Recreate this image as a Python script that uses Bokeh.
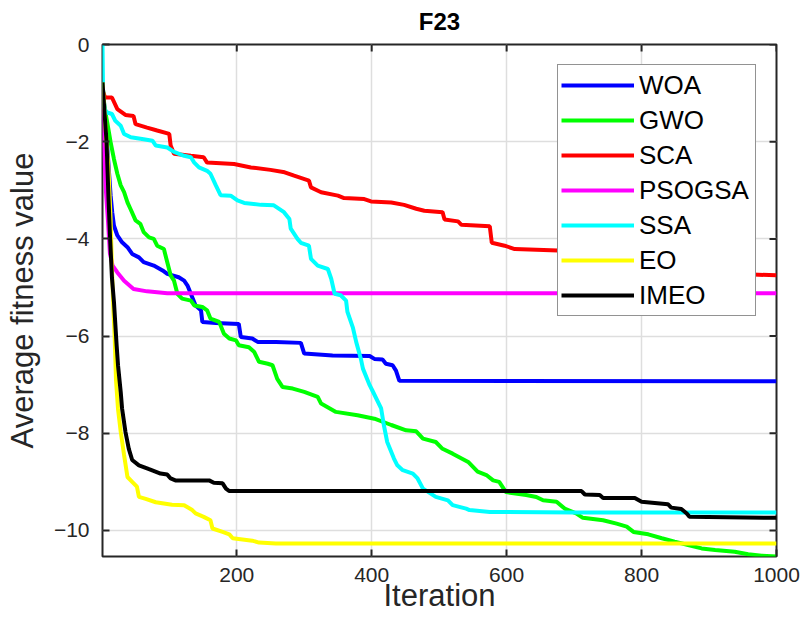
from bokeh.plotting import figure
from bokeh.models import FixedTicker, Range1d, Legend, LegendItem
from bokeh.embed import file_html
from bokeh.resources import INLINE

# ---------------- data ----------------
x_ticks = [200, 400, 600, 800, 1000]
y_ticks = [-10, -8, -6, -4, -2, 0]

woa_x = [1, 5, 10, 13, 15.4, 18, 23, 30, 38, 45, 55, 62, 77, 90, 97, 114, 122, 127, 134, 139,
         147, 149, 169, 203, 206, 223, 231, 258, 295, 300, 342, 397, 404, 416, 421, 431, 436, 441, 1000]
woa_y = [-0.8, -1.5, -2.5, -3.1, -3.45, -3.73, -3.93, -4.07, -4.17, -4.31, -4.38, -4.48, -4.55, -4.65,
         -4.72, -4.79, -4.86, -4.96, -5.20, -5.37, -5.47, -5.71, -5.73, -5.75, -6.02, -6.05, -6.12,
         -6.12, -6.14, -6.36, -6.40, -6.41, -6.47, -6.48, -6.57, -6.60, -6.71, -6.92, -6.93]

gwo_x = [1, 4, 8, 13, 18, 23, 28, 33, 38, 43, 50, 57, 62, 70, 77, 82, 92, 97, 102, 107,
         112, 119, 132, 137, 149, 156, 161, 174, 181, 189, 199, 203, 218, 226, 233, 246, 253, 260, 268, 283,
         300, 320, 325, 347, 379, 404, 429, 451, 466, 476, 495, 505, 520, 543, 557, 570, 580, 589, 599, 629,
         644, 654, 674, 686, 703, 713, 743, 763, 778, 788, 810, 830, 849, 869, 889, 909, 938, 958, 978, 1000]
gwo_y = [-0.8, -1.3, -1.60, -2.01, -2.36, -2.66, -2.90, -3.04, -3.25, -3.40,
         -3.62, -3.69, -3.86, -3.97, -4.00, -4.14, -4.21, -4.48, -4.75, -4.86,
         -5.13, -5.23, -5.27, -5.37, -5.40, -5.47, -5.64, -5.71, -5.95, -6.05,
         -6.09, -6.19, -6.23, -6.33, -6.53, -6.57, -6.60, -6.88, -7.05, -7.08,
         -7.15, -7.25, -7.39, -7.56, -7.63, -7.70, -7.83, -7.94, -7.96, -8.11,
         -8.18, -8.32, -8.42, -8.59, -8.79, -8.86, -8.97, -9.00, -9.21, -9.27,
         -9.31, -9.38, -9.41, -9.55, -9.65, -9.74, -9.79, -9.86, -9.92, -10.03,
         -10.08, -10.16, -10.23, -10.30, -10.37, -10.40, -10.44, -10.49, -10.52, -10.536]

sca_x = [1, 5, 15, 23, 35, 47, 50, 67, 82, 100, 102, 107, 132, 151, 156, 196, 221, 250, 271, 285,
         307, 310, 325, 350, 359, 389, 399, 429, 448, 466, 478, 505, 508, 528, 533, 575, 578, 597, 612, 676,
         750, 820, 880, 940, 1000]
sca_y = [-0.95, -1.09, -1.09, -1.33, -1.45, -1.47, -1.64, -1.71, -1.77, -1.84,
         -2.08, -2.25, -2.29, -2.32, -2.43, -2.46, -2.53, -2.58, -2.63, -2.70,
         -2.80, -2.94, -3.04, -3.11, -3.16, -3.18, -3.23, -3.25, -3.30, -3.38,
         -3.42, -3.45, -3.60, -3.64, -3.71, -3.74, -4.08, -4.14, -4.21, -4.24,
         -4.35, -4.50, -4.62, -4.72, -4.75]

psogsa_x = [1, 3, 6, 9, 12, 16, 23, 33, 47, 67, 97, 1000]
psogsa_y = [-0.9, -2.0, -3.0, -3.6, -4.3, -4.55, -4.69, -4.86, -5.03, -5.08, -5.12, -5.12]

ssa_x = [1, 2, 5, 8, 15, 20, 28, 33, 43, 62, 75, 80, 97, 107, 122, 132, 137, 144, 156, 161,
         169, 176, 191, 201, 211, 236, 255, 270, 278, 280, 290, 295, 307, 310, 320, 335, 340, 345, 354, 362,
         364, 372, 377, 384, 387, 397, 401, 414, 418, 423, 433, 438, 446, 461, 468, 476, 495, 513, 520, 540,
         545, 575, 700, 1000]
ssa_y = [0, -1.2, -1.35, -1.40, -1.43, -1.57, -1.67, -1.84, -1.91, -1.95,
         -1.98, -2.08, -2.12, -2.21, -2.29, -2.32, -2.43, -2.53, -2.60, -2.66,
         -2.90, -3.10, -3.11, -3.21, -3.26, -3.30, -3.31, -3.45, -3.59, -3.79,
         -4.00, -4.08, -4.14, -4.41, -4.55, -4.62, -4.82, -5.13, -5.16, -5.27,
         -5.50, -5.82, -6.12, -6.47, -6.67, -7.01, -7.12, -7.49, -7.83, -8.18,
         -8.52, -8.66, -8.76, -8.83, -8.93, -9.14, -9.31, -9.38, -9.48, -9.55,
         -9.58, -9.62, -9.63, -9.63]

eo_x = [1, 6, 10, 13, 15, 17, 19, 21, 24, 28, 33, 38, 45, 52, 55, 65, 80, 104, 122, 134,
        139, 151, 161, 164, 179, 189, 194, 223, 233, 258, 1000]
eo_y = [-0.78, -1.8, -2.6, -3.6, -4.6, -5.4, -6.0, -6.9, -7.5, -7.97,
        -8.45, -8.90, -9.00, -9.10, -9.31, -9.35, -9.42, -9.47, -9.48, -9.58,
        -9.65, -9.72, -9.79, -9.96, -10.03, -10.08, -10.16, -10.21, -10.25, -10.27, -10.27]

imeo_x = [1, 4, 7, 10, 12, 15, 18, 22, 24, 28, 30, 35, 40, 45, 55, 70, 87, 97, 102, 109,
          159, 166, 179, 184, 189, 711, 716, 738, 743, 790, 800, 839, 844, 859, 867, 871, 1000]
imeo_y = [-0.78, -1.4, -2.0, -3.2, -3.9, -4.8, -5.3, -6.2, -6.6, -7.15,
          -7.49, -7.97, -8.32, -8.55, -8.66, -8.74, -8.83, -8.85, -8.93, -8.97,
          -8.97, -9.02, -9.03, -9.14, -9.19, -9.19, -9.26, -9.27, -9.33, -9.33,
          -9.41, -9.46, -9.53, -9.56, -9.65, -9.72, -9.74]

series = [
    ("WOA", woa_x, woa_y, "#0000ff"),
    ("GWO", gwo_x, gwo_y, "#00ff00"),
    ("SCA", sca_x, sca_y, "#ff0000"),
    ("PSOGSA", psogsa_x, psogsa_y, "#ff00ff"),
    ("SSA", ssa_x, ssa_y, "#00ffff"),
    ("EO", eo_x, eo_y, "#ffff00"),
    ("IMEO", imeo_x, imeo_y, "#000000"),
]
title_text = "F23"

FONT = "Liberation Sans"
AX = "#262626"
X_LO, X_HI = 1, 1000
Y_LO, Y_HI = -10.536, 0

W, H = 801, 634
BL, BR, BT, BB = 102, 25, 43, 78
FRAME_W = W - BL - BR
FRAME_H = H - BT - BB
TICK = 7

p = figure(width=W, height=H, output_backend="svg", toolbar_location=None,
           x_range=Range1d(X_LO, X_HI), y_range=Range1d(Y_LO, Y_HI),
           min_border_left=BL, min_border_right=BR, min_border_top=BT, min_border_bottom=BB,
           title=title_text)
p.background_fill_color = "white"
p.border_fill_color = "white"
p.outline_line_color = AX
p.outline_line_width = 2

p.title.text_font = FONT
p.title.text_font_size = "24px"
p.title.text_font_style = "bold"
p.title.align = "center"
p.title.vertical_align = "top"
p.title.text_line_height = 0.6
p.title.standoff = 15
p.title.text_color = "#000000"

for ax in (p.xaxis[0], p.yaxis[0]):
    ax.axis_line_color = None
    ax.major_tick_in = TICK
    ax.major_tick_out = 0
    ax.major_tick_line_color = AX
    ax.major_tick_line_width = 2
    ax.minor_tick_line_color = None
    ax.major_label_text_font = FONT
    ax.major_label_text_font_size = "21px"
    ax.major_label_text_color = AX
    ax.axis_label_text_font = FONT
    ax.axis_label_text_font_size = "31px"
    ax.axis_label_text_font_style = "normal"
    ax.axis_label_text_color = AX

p.xaxis[0].ticker = FixedTicker(ticks=x_ticks)
p.yaxis[0].ticker = FixedTicker(ticks=y_ticks)
p.xaxis[0].axis_label = "Iteration"
p.yaxis[0].axis_label = "Average fitness value"
p.xaxis[0].major_label_standoff = 11
p.yaxis[0].major_label_standoff = 13
p.xaxis[0].axis_label_standoff = -7
p.yaxis[0].axis_label_standoff = 11

p.xgrid.ticker = FixedTicker(ticks=x_ticks)
p.ygrid.ticker = FixedTicker(ticks=y_ticks)
p.grid.grid_line_color = "#dedede"
p.grid.grid_line_width = 1.5

items = []
for name, xs, ys, col in series:
    r = p.line(xs, ys, line_color=col, line_width=4)
    items.append(LegendItem(label=name, renderers=[r]))

# inward ticks on the top and right edges of the box (MATLAB "box on")
dy = TICK * (Y_HI - Y_LO) / FRAME_H
dx = TICK * (X_HI - X_LO) / FRAME_W
p.segment(x0=x_ticks, y0=[Y_HI] * len(x_ticks), x1=x_ticks, y1=[Y_HI - dy] * len(x_ticks),
          line_color=AX, line_width=2)
p.segment(x0=[X_HI] * len(y_ticks), y0=y_ticks, x1=[X_HI - dx] * len(y_ticks), y1=y_ticks,
          line_color=AX, line_width=2)

legend = Legend(items=items, location="top_right")
legend.margin = 20
legend.padding = 3
legend.spacing = 1
legend.glyph_width = 73
legend.glyph_height = 34
legend.label_height = 34
legend.label_width = 113
legend.label_standoff = 5
legend.label_text_font = FONT
legend.label_text_font_size = "26px"
legend.label_text_color = "#000000"
legend.border_line_color = AX
legend.border_line_width = 1
legend.background_fill_color = "white"
legend.background_fill_alpha = 1
p.add_layout(legend)

open("out.html", "w").write(file_html(p, INLINE))
